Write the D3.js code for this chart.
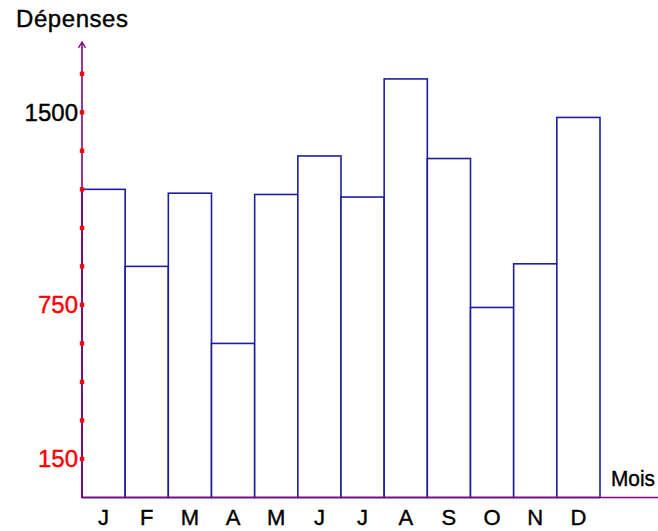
<!DOCTYPE html>
<html><head><meta charset="utf-8">
<script src="https://cdn.jsdelivr.net/npm/d3@7"></script>
<style>body{margin:0;background:#fff}svg{display:block}</style>
</head><body>
<svg id="c" width="658" height="531"></svg>
<script>
const months = ["J","F","M","A","M","J","J","A","S","O","N","D"];
const depenses = [1200, 900, 1185, 600, 1180, 1330, 1170, 1630, 1320, 740, 910, 1480];
const tickValues = [150,300,450,600,750,900,1050,1200,1350,1500,1650];
const labeledTicks = [150, 750, 1500];
const labelColors = {150:"#ff0000", 750:"#ff0000", 1500:"#000000"};
const yTitle = "Dépenses";
const xTitle = "Mois";

const svg = d3.select("#c");
const x0 = 82, x1 = 600, yBase = 497.5;
const y = d3.scaleLinear().domain([0,1500]).range([yBase,112.3]);
const x = d3.scaleBand().domain(d3.range(months.length)).range([x0,x1]).padding(0);
const font = "'Liberation Sans', Arial, sans-serif";

// bars
svg.append("g").selectAll("rect").data(depenses).join("rect")
  .attr("x",(d,i)=>x(i)).attr("y",d=>y(d))
  .attr("width",x.bandwidth()).attr("height",d=>yBase-y(d))
  .attr("fill","#fff").attr("stroke","#1e1e9a").attr("stroke-width",1.6);

// axes
const axisColor = "#800080";
svg.append("line").attr("x1",x0).attr("x2",658).attr("y1",yBase).attr("y2",yBase)
  .attr("stroke",axisColor).attr("stroke-width",1.6);
svg.append("line").attr("x1",x0).attr("x2",x0).attr("y1",yBase).attr("y2",y(1774))
  .attr("stroke",axisColor).attr("stroke-width",1.6);
svg.append("path")
  .attr("d",`M${x0-3.5},${y(1774)+6} L${x0},${y(1774)} L${x0+3.5},${y(1774)+6}`)
  .attr("fill","none").attr("stroke",axisColor).attr("stroke-width",1.3);

// tick markers
svg.append("g").selectAll("rect").data(tickValues).join("rect")
  .attr("x",x0-2.2).attr("y",d=>y(d)-2.2).attr("width",4.4).attr("height",4.4)
  .attr("fill","#ff0000");

// tick labels
svg.append("g").selectAll("text").data(labeledTicks).join("text")
  .attr("x",x0-4).attr("y",d=>y(d)+8.5).attr("text-anchor","end")
  .attr("font-family",font).attr("font-size",24).attr("fill",d=>labelColors[d])
  .attr("stroke",d=>labelColors[d]).attr("stroke-width",0.4)
  .text(d=>d);

// month labels
svg.append("g").selectAll("text").data(months).join("text")
  .attr("x",(d,i)=>x(i)+x.bandwidth()/2).attr("y",525)
  .attr("text-anchor","middle").attr("font-family",font).attr("font-size",22)
  .attr("fill","#000").attr("stroke","#000").attr("stroke-width",0.4).text(d=>d);

// titles
svg.append("text").attr("x",16).attr("y",27).attr("font-family",font)
  .attr("font-size",24).attr("fill","#000").attr("stroke","#000").attr("stroke-width",0.4)
  .attr("textLength",112).text(yTitle);
svg.append("text").attr("x",611).attr("y",486).attr("font-family",font)
  .attr("font-size",22).attr("fill","#000").attr("stroke","#000").attr("stroke-width",0.4)
  .attr("textLength",44).attr("lengthAdjust","spacingAndGlyphs")
  .text(xTitle);
</script>
</body></html>
